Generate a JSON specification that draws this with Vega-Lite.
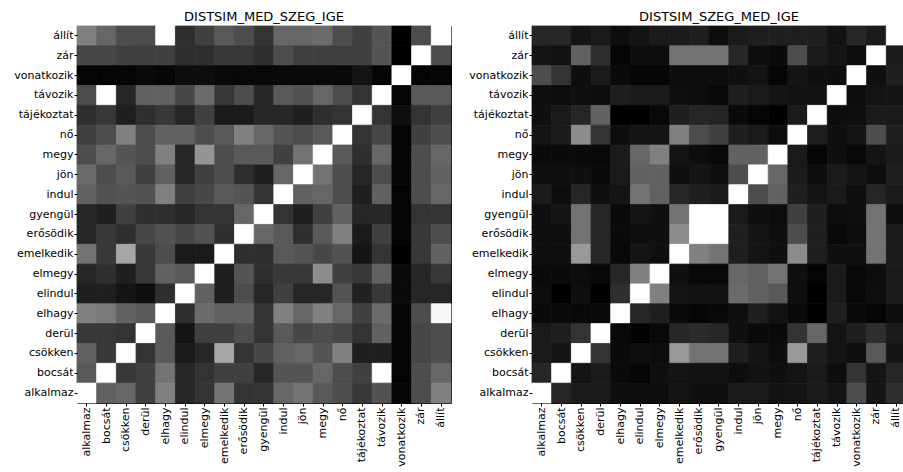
{
"$schema": "https://vega.github.io/schema/vega-lite/v6.json",
"background": "white",
"padding": {"left": 0, "top": 10, "right": 0, "bottom": 0},
"spacing": 3,
"config": {
 "view": {"stroke": "black", "strokeWidth": 1},
 "font": "DejaVu Sans",
 "axis": {"labelFont": "DejaVu Sans", "labelFontSize": 11, "labelColor": "black", "domain": false, "ticks": true, "tickSize": 3, "tickColor": "black", "labelPadding": 1, "title": null, "grid": false},
 "title": {"font": "DejaVu Sans", "fontSize": 13, "fontWeight": "normal", "color": "black", "offset": 2, "anchor": "middle"}
},
"hconcat": [
 {"title": "DISTSIM_MED_SZEG_IGE", "width": 374, "height": 377, "data": {"name": "left"}, "mark": {"type": "rect", "strokeWidth": 0.8},
  "encoding": {
   "x": {"field": "c", "type": "nominal", "sort": ["alkalmaz","bocsát","csökken","derül","elhagy","elindul","elmegy","emelkedik","erősödik","gyengül","indul","jön","megy","nő","tájékoztat","távozik","vonatkozik","zár","állít"], "scale": {"paddingInner": 0, "paddingOuter": 0}, "axis": {"labelAngle": -90}},
   "y": {"field": "r", "type": "nominal", "sort": ["állít","zár","vonatkozik","távozik","tájékoztat","nő","megy","jön","indul","gyengül","erősödik","emelkedik","elmegy","elindul","elhagy","derül","csökken","bocsát","alkalmaz"], "scale": {"paddingInner": 0, "paddingOuter": 0}, "axis": {"minExtent": 76, "maxExtent": 76}},
   "color": {"field": "v", "type": "quantitative", "scale": {"domain": [0, 1], "range": ["#000000", "#ffffff"], "interpolate": "rgb"}, "legend": null},
   "stroke": {"field": "v", "type": "quantitative", "scale": {"domain": [0, 1], "range": ["#000000", "#ffffff"], "interpolate": "rgb"}, "legend": null}
  }},
 {"title": "DISTSIM_SZEG_MED_IGE", "width": 374, "height": 377, "data": {"name": "right"}, "mark": {"type": "rect", "strokeWidth": 0.8},
  "encoding": {
   "x": {"field": "c", "type": "nominal", "sort": ["alkalmaz","bocsát","csökken","derül","elhagy","elindul","elmegy","emelkedik","erősödik","gyengül","indul","jön","megy","nő","tájékoztat","távozik","vonatkozik","zár","állít"], "scale": {"paddingInner": 0, "paddingOuter": 0}, "axis": {"labelAngle": -90}},
   "y": {"field": "r", "type": "nominal", "sort": ["állít","zár","vonatkozik","távozik","tájékoztat","nő","megy","jön","indul","gyengül","erősödik","emelkedik","elmegy","elindul","elhagy","derül","csökken","bocsát","alkalmaz"], "scale": {"paddingInner": 0, "paddingOuter": 0}, "axis": {"minExtent": 76, "maxExtent": 76}},
   "color": {"field": "v", "type": "quantitative", "scale": {"domain": [0, 1], "range": ["#000000", "#ffffff"], "interpolate": "rgb"}, "legend": null},
   "stroke": {"field": "v", "type": "quantitative", "scale": {"domain": [0, 1], "range": ["#000000", "#ffffff"], "interpolate": "rgb"}, "legend": null}
  }}
],
"datasets": {
"left": [
{"r":"állít","c":"alkalmaz","v":0.5},{"r":"állít","c":"bocsát","v":0.4},{"r":"állít","c":"csökken","v":0.3},{"r":"állít","c":"derül","v":0.3},{"r":"állít","c":"elhagy","v":1.0},{"r":"állít","c":"elindul","v":0.18},{"r":"állít","c":"elmegy","v":0.25},{"r":"állít","c":"emelkedik","v":0.35},{"r":"állít","c":"erősödik","v":0.3},{"r":"állít","c":"gyengül","v":0.2},{"r":"állít","c":"indul","v":0.4},{"r":"állít","c":"jön","v":0.4},{"r":"állít","c":"megy","v":0.42},{"r":"állít","c":"nő","v":0.3},{"r":"állít","c":"tájékoztat","v":0.25},{"r":"állít","c":"távozik","v":0.33},{"r":"állít","c":"vonatkozik","v":0.0},{"r":"állít","c":"zár","v":0.3},{"r":"állít","c":"állít","v":1.0},
{"r":"zár","c":"alkalmaz","v":0.28},{"r":"zár","c":"bocsát","v":0.28},{"r":"zár","c":"csökken","v":0.25},{"r":"zár","c":"derül","v":0.25},{"r":"zár","c":"elhagy","v":0.25},{"r":"zár","c":"elindul","v":0.18},{"r":"zár","c":"elmegy","v":0.18},{"r":"zár","c":"emelkedik","v":0.22},{"r":"zár","c":"erősödik","v":0.22},{"r":"zár","c":"gyengül","v":0.18},{"r":"zár","c":"indul","v":0.3},{"r":"zár","c":"jön","v":0.25},{"r":"zár","c":"megy","v":0.25},{"r":"zár","c":"nő","v":0.25},{"r":"zár","c":"tájékoztat","v":0.25},{"r":"zár","c":"távozik","v":0.33},{"r":"zár","c":"vonatkozik","v":0.0},{"r":"zár","c":"zár","v":1.0},{"r":"zár","c":"állít","v":0.3},
{"r":"vonatkozik","c":"alkalmaz","v":0.02},{"r":"vonatkozik","c":"bocsát","v":0.02},{"r":"vonatkozik","c":"csökken","v":0.02},{"r":"vonatkozik","c":"derül","v":0.03},{"r":"vonatkozik","c":"elhagy","v":0.02},{"r":"vonatkozik","c":"elindul","v":0.05},{"r":"vonatkozik","c":"elmegy","v":0.05},{"r":"vonatkozik","c":"emelkedik","v":0.03},{"r":"vonatkozik","c":"erősödik","v":0.03},{"r":"vonatkozik","c":"gyengül","v":0.03},{"r":"vonatkozik","c":"indul","v":0.03},{"r":"vonatkozik","c":"jön","v":0.03},{"r":"vonatkozik","c":"megy","v":0.03},{"r":"vonatkozik","c":"nő","v":0.03},{"r":"vonatkozik","c":"tájékoztat","v":0.08},{"r":"vonatkozik","c":"távozik","v":0.02},{"r":"vonatkozik","c":"vonatkozik","v":1.0},{"r":"vonatkozik","c":"zár","v":0.02},{"r":"vonatkozik","c":"állít","v":0.02},
{"r":"távozik","c":"alkalmaz","v":0.3},{"r":"távozik","c":"bocsát","v":1.0},{"r":"távozik","c":"csökken","v":0.15},{"r":"távozik","c":"derül","v":0.38},{"r":"távozik","c":"elhagy","v":0.38},{"r":"távozik","c":"elindul","v":0.28},{"r":"távozik","c":"elmegy","v":0.42},{"r":"távozik","c":"emelkedik","v":0.22},{"r":"távozik","c":"erősödik","v":0.3},{"r":"távozik","c":"gyengül","v":0.15},{"r":"távozik","c":"indul","v":0.35},{"r":"távozik","c":"jön","v":0.32},{"r":"távozik","c":"megy","v":0.4},{"r":"távozik","c":"nő","v":0.3},{"r":"távozik","c":"tájékoztat","v":0.2},{"r":"távozik","c":"távozik","v":1.0},{"r":"távozik","c":"vonatkozik","v":0.02},{"r":"távozik","c":"zár","v":0.35},{"r":"távozik","c":"állít","v":0.35},
{"r":"tájékoztat","c":"alkalmaz","v":0.18},{"r":"tájékoztat","c":"bocsát","v":0.22},{"r":"tájékoztat","c":"csökken","v":0.12},{"r":"tájékoztat","c":"derül","v":0.18},{"r":"tájékoztat","c":"elhagy","v":0.22},{"r":"tájékoztat","c":"elindul","v":0.15},{"r":"tájékoztat","c":"elmegy","v":0.25},{"r":"tájékoztat","c":"emelkedik","v":0.1},{"r":"tájékoztat","c":"erősödik","v":0.1},{"r":"tájékoztat","c":"gyengül","v":0.15},{"r":"tájékoztat","c":"indul","v":0.15},{"r":"tájékoztat","c":"jön","v":0.12},{"r":"tájékoztat","c":"megy","v":0.18},{"r":"tájékoztat","c":"nő","v":0.2},{"r":"tájékoztat","c":"tájékoztat","v":1.0},{"r":"tájékoztat","c":"távozik","v":0.2},{"r":"tájékoztat","c":"vonatkozik","v":0.06},{"r":"tájékoztat","c":"zár","v":0.2},{"r":"tájékoztat","c":"állít","v":0.25},
{"r":"nő","c":"alkalmaz","v":0.25},{"r":"nő","c":"bocsát","v":0.3},{"r":"nő","c":"csökken","v":0.5},{"r":"nő","c":"derül","v":0.3},{"r":"nő","c":"elhagy","v":0.38},{"r":"nő","c":"elindul","v":0.38},{"r":"nő","c":"elmegy","v":0.3},{"r":"nő","c":"emelkedik","v":0.35},{"r":"nő","c":"erősödik","v":0.5},{"r":"nő","c":"gyengül","v":0.4},{"r":"nő","c":"indul","v":0.33},{"r":"nő","c":"jön","v":0.3},{"r":"nő","c":"megy","v":0.35},{"r":"nő","c":"nő","v":1.0},{"r":"nő","c":"tájékoztat","v":0.2},{"r":"nő","c":"távozik","v":0.28},{"r":"nő","c":"vonatkozik","v":0.02},{"r":"nő","c":"zár","v":0.25},{"r":"nő","c":"állít","v":0.3},
{"r":"megy","c":"alkalmaz","v":0.3},{"r":"megy","c":"bocsát","v":0.4},{"r":"megy","c":"csökken","v":0.33},{"r":"megy","c":"derül","v":0.3},{"r":"megy","c":"elhagy","v":0.5},{"r":"megy","c":"elindul","v":0.15},{"r":"megy","c":"elmegy","v":0.58},{"r":"megy","c":"emelkedik","v":0.3},{"r":"megy","c":"erősödik","v":0.35},{"r":"megy","c":"gyengül","v":0.35},{"r":"megy","c":"indul","v":0.25},{"r":"megy","c":"jön","v":0.45},{"r":"megy","c":"megy","v":1.0},{"r":"megy","c":"nő","v":0.35},{"r":"megy","c":"tájékoztat","v":0.18},{"r":"megy","c":"távozik","v":0.4},{"r":"megy","c":"vonatkozik","v":0.02},{"r":"megy","c":"zár","v":0.3},{"r":"megy","c":"állít","v":0.4},
{"r":"jön","c":"alkalmaz","v":0.42},{"r":"jön","c":"bocsát","v":0.3},{"r":"jön","c":"csökken","v":0.35},{"r":"jön","c":"derül","v":0.25},{"r":"jön","c":"elhagy","v":0.38},{"r":"jön","c":"elindul","v":0.15},{"r":"jön","c":"elmegy","v":0.25},{"r":"jön","c":"emelkedik","v":0.3},{"r":"jön","c":"erősödik","v":0.18},{"r":"jön","c":"gyengül","v":0.12},{"r":"jön","c":"indul","v":0.4},{"r":"jön","c":"jön","v":1.0},{"r":"jön","c":"megy","v":0.45},{"r":"jön","c":"nő","v":0.3},{"r":"jön","c":"tájékoztat","v":0.15},{"r":"jön","c":"távozik","v":0.3},{"r":"jön","c":"vonatkozik","v":0.02},{"r":"jön","c":"zár","v":0.3},{"r":"jön","c":"állít","v":0.38},
{"r":"indul","c":"alkalmaz","v":0.38},{"r":"indul","c":"bocsát","v":0.32},{"r":"indul","c":"csökken","v":0.33},{"r":"indul","c":"derül","v":0.32},{"r":"indul","c":"elhagy","v":0.5},{"r":"indul","c":"elindul","v":0.25},{"r":"indul","c":"elmegy","v":0.28},{"r":"indul","c":"emelkedik","v":0.35},{"r":"indul","c":"erősödik","v":0.33},{"r":"indul","c":"gyengül","v":0.2},{"r":"indul","c":"indul","v":1.0},{"r":"indul","c":"jön","v":0.38},{"r":"indul","c":"megy","v":0.4},{"r":"indul","c":"nő","v":0.3},{"r":"indul","c":"tájékoztat","v":0.12},{"r":"indul","c":"távozik","v":0.38},{"r":"indul","c":"vonatkozik","v":0.02},{"r":"indul","c":"zár","v":0.3},{"r":"indul","c":"állít","v":0.4},
{"r":"gyengül","c":"alkalmaz","v":0.15},{"r":"gyengül","c":"bocsát","v":0.12},{"r":"gyengül","c":"csökken","v":0.25},{"r":"gyengül","c":"derül","v":0.18},{"r":"gyengül","c":"elhagy","v":0.18},{"r":"gyengül","c":"elindul","v":0.15},{"r":"gyengül","c":"elmegy","v":0.2},{"r":"gyengül","c":"emelkedik","v":0.2},{"r":"gyengül","c":"erősödik","v":0.4},{"r":"gyengül","c":"gyengül","v":1.0},{"r":"gyengül","c":"indul","v":0.2},{"r":"gyengül","c":"jön","v":0.12},{"r":"gyengül","c":"megy","v":0.25},{"r":"gyengül","c":"nő","v":0.38},{"r":"gyengül","c":"tájékoztat","v":0.15},{"r":"gyengül","c":"távozik","v":0.15},{"r":"gyengül","c":"vonatkozik","v":0.02},{"r":"gyengül","c":"zár","v":0.2},{"r":"gyengül","c":"állít","v":0.2},
{"r":"erősödik","c":"alkalmaz","v":0.15},{"r":"erősödik","c":"bocsát","v":0.22},{"r":"erősödik","c":"csökken","v":0.18},{"r":"erősödik","c":"derül","v":0.28},{"r":"erősödik","c":"elhagy","v":0.32},{"r":"erősödik","c":"elindul","v":0.28},{"r":"erősödik","c":"elmegy","v":0.32},{"r":"erősödik","c":"emelkedik","v":0.18},{"r":"erősödik","c":"erősödik","v":1.0},{"r":"erősödik","c":"gyengül","v":0.4},{"r":"erősödik","c":"indul","v":0.35},{"r":"erősödik","c":"jön","v":0.18},{"r":"erősödik","c":"megy","v":0.35},{"r":"erősödik","c":"nő","v":0.5},{"r":"erősödik","c":"tájékoztat","v":0.1},{"r":"erősödik","c":"távozik","v":0.25},{"r":"erősödik","c":"vonatkozik","v":0.02},{"r":"erősödik","c":"zár","v":0.22},{"r":"erősödik","c":"állít","v":0.3},
{"r":"emelkedik","c":"alkalmaz","v":0.45},{"r":"emelkedik","c":"bocsát","v":0.22},{"r":"emelkedik","c":"csökken","v":0.65},{"r":"emelkedik","c":"derül","v":0.22},{"r":"emelkedik","c":"elhagy","v":0.3},{"r":"emelkedik","c":"elindul","v":0.1},{"r":"emelkedik","c":"elmegy","v":0.1},{"r":"emelkedik","c":"emelkedik","v":1.0},{"r":"emelkedik","c":"erősödik","v":0.18},{"r":"emelkedik","c":"gyengül","v":0.18},{"r":"emelkedik","c":"indul","v":0.35},{"r":"emelkedik","c":"jön","v":0.33},{"r":"emelkedik","c":"megy","v":0.28},{"r":"emelkedik","c":"nő","v":0.32},{"r":"emelkedik","c":"tájékoztat","v":0.08},{"r":"emelkedik","c":"távozik","v":0.2},{"r":"emelkedik","c":"vonatkozik","v":0.0},{"r":"emelkedik","c":"zár","v":0.22},{"r":"emelkedik","c":"állít","v":0.38},
{"r":"elmegy","c":"alkalmaz","v":0.15},{"r":"elmegy","c":"bocsát","v":0.18},{"r":"elmegy","c":"csökken","v":0.12},{"r":"elmegy","c":"derül","v":0.22},{"r":"elmegy","c":"elhagy","v":0.38},{"r":"elmegy","c":"elindul","v":0.35},{"r":"elmegy","c":"elmegy","v":1.0},{"r":"elmegy","c":"emelkedik","v":0.12},{"r":"elmegy","c":"erősödik","v":0.33},{"r":"elmegy","c":"gyengül","v":0.18},{"r":"elmegy","c":"indul","v":0.22},{"r":"elmegy","c":"jön","v":0.22},{"r":"elmegy","c":"megy","v":0.55},{"r":"elmegy","c":"nő","v":0.25},{"r":"elmegy","c":"tájékoztat","v":0.22},{"r":"elmegy","c":"távozik","v":0.38},{"r":"elmegy","c":"vonatkozik","v":0.04},{"r":"elmegy","c":"zár","v":0.15},{"r":"elmegy","c":"állít","v":0.22},
{"r":"elindul","c":"alkalmaz","v":0.12},{"r":"elindul","c":"bocsát","v":0.12},{"r":"elindul","c":"csökken","v":0.08},{"r":"elindul","c":"derül","v":0.06},{"r":"elindul","c":"elhagy","v":0.18},{"r":"elindul","c":"elindul","v":1.0},{"r":"elindul","c":"elmegy","v":0.38},{"r":"elindul","c":"emelkedik","v":0.12},{"r":"elindul","c":"erősödik","v":0.3},{"r":"elindul","c":"gyengül","v":0.15},{"r":"elindul","c":"indul","v":0.25},{"r":"elindul","c":"jön","v":0.15},{"r":"elindul","c":"megy","v":0.15},{"r":"elindul","c":"nő","v":0.33},{"r":"elindul","c":"tájékoztat","v":0.13},{"r":"elindul","c":"távozik","v":0.22},{"r":"elindul","c":"vonatkozik","v":0.04},{"r":"elindul","c":"zár","v":0.15},{"r":"elindul","c":"állít","v":0.15},
{"r":"elhagy","c":"alkalmaz","v":0.5},{"r":"elhagy","c":"bocsát","v":0.48},{"r":"elhagy","c":"csökken","v":0.38},{"r":"elhagy","c":"derül","v":0.35},{"r":"elhagy","c":"elhagy","v":1.0},{"r":"elhagy","c":"elindul","v":0.18},{"r":"elhagy","c":"elmegy","v":0.42},{"r":"elhagy","c":"emelkedik","v":0.38},{"r":"elhagy","c":"erősödik","v":0.38},{"r":"elhagy","c":"gyengül","v":0.2},{"r":"elhagy","c":"indul","v":0.5},{"r":"elhagy","c":"jön","v":0.4},{"r":"elhagy","c":"megy","v":0.5},{"r":"elhagy","c":"nő","v":0.4},{"r":"elhagy","c":"tájékoztat","v":0.25},{"r":"elhagy","c":"távozik","v":0.42},{"r":"elhagy","c":"vonatkozik","v":0.02},{"r":"elhagy","c":"zár","v":0.3},{"r":"elhagy","c":"állít","v":0.97},
{"r":"derül","c":"alkalmaz","v":0.22},{"r":"derül","c":"bocsát","v":0.22},{"r":"derül","c":"csökken","v":0.2},{"r":"derül","c":"derül","v":1.0},{"r":"derül","c":"elhagy","v":0.35},{"r":"derül","c":"elindul","v":0.08},{"r":"derül","c":"elmegy","v":0.25},{"r":"derül","c":"emelkedik","v":0.25},{"r":"derül","c":"erősödik","v":0.3},{"r":"derül","c":"gyengül","v":0.2},{"r":"derül","c":"indul","v":0.35},{"r":"derül","c":"jön","v":0.28},{"r":"derül","c":"megy","v":0.3},{"r":"derül","c":"nő","v":0.28},{"r":"derül","c":"tájékoztat","v":0.2},{"r":"derül","c":"távozik","v":0.38},{"r":"derül","c":"vonatkozik","v":0.02},{"r":"derül","c":"zár","v":0.28},{"r":"derül","c":"állít","v":0.3},
{"r":"csökken","c":"alkalmaz","v":0.38},{"r":"csökken","c":"bocsát","v":0.22},{"r":"csökken","c":"csökken","v":1.0},{"r":"csökken","c":"derül","v":0.2},{"r":"csökken","c":"elhagy","v":0.35},{"r":"csökken","c":"elindul","v":0.1},{"r":"csökken","c":"elmegy","v":0.15},{"r":"csökken","c":"emelkedik","v":0.65},{"r":"csökken","c":"erősödik","v":0.2},{"r":"csökken","c":"gyengül","v":0.28},{"r":"csökken","c":"indul","v":0.38},{"r":"csökken","c":"jön","v":0.4},{"r":"csökken","c":"megy","v":0.33},{"r":"csökken","c":"nő","v":0.5},{"r":"csökken","c":"tájékoztat","v":0.12},{"r":"csökken","c":"távozik","v":0.12},{"r":"csökken","c":"vonatkozik","v":0.02},{"r":"csökken","c":"zár","v":0.28},{"r":"csökken","c":"állít","v":0.3},
{"r":"bocsát","c":"alkalmaz","v":0.35},{"r":"bocsát","c":"bocsát","v":1.0},{"r":"bocsát","c":"csökken","v":0.22},{"r":"bocsát","c":"derül","v":0.25},{"r":"bocsát","c":"elhagy","v":0.45},{"r":"bocsát","c":"elindul","v":0.15},{"r":"bocsát","c":"elmegy","v":0.2},{"r":"bocsát","c":"emelkedik","v":0.25},{"r":"bocsát","c":"erősödik","v":0.25},{"r":"bocsát","c":"gyengül","v":0.15},{"r":"bocsát","c":"indul","v":0.33},{"r":"bocsát","c":"jön","v":0.33},{"r":"bocsát","c":"megy","v":0.4},{"r":"bocsát","c":"nő","v":0.3},{"r":"bocsát","c":"tájékoztat","v":0.25},{"r":"bocsát","c":"távozik","v":1.0},{"r":"bocsát","c":"vonatkozik","v":0.02},{"r":"bocsát","c":"zár","v":0.3},{"r":"bocsát","c":"állít","v":0.4},
{"r":"alkalmaz","c":"alkalmaz","v":1.0},{"r":"alkalmaz","c":"bocsát","v":0.38},{"r":"alkalmaz","c":"csökken","v":0.4},{"r":"alkalmaz","c":"derül","v":0.25},{"r":"alkalmaz","c":"elhagy","v":0.5},{"r":"alkalmaz","c":"elindul","v":0.15},{"r":"alkalmaz","c":"elmegy","v":0.2},{"r":"alkalmaz","c":"emelkedik","v":0.45},{"r":"alkalmaz","c":"erősödik","v":0.2},{"r":"alkalmaz","c":"gyengül","v":0.2},{"r":"alkalmaz","c":"indul","v":0.4},{"r":"alkalmaz","c":"jön","v":0.45},{"r":"alkalmaz","c":"megy","v":0.35},{"r":"alkalmaz","c":"nő","v":0.3},{"r":"alkalmaz","c":"tájékoztat","v":0.22},{"r":"alkalmaz","c":"távozik","v":0.32},{"r":"alkalmaz","c":"vonatkozik","v":0.02},{"r":"alkalmaz","c":"zár","v":0.3},{"r":"alkalmaz","c":"állít","v":0.5}
],
"right": [
{"r":"állít","c":"alkalmaz","v":0.15},{"r":"állít","c":"bocsát","v":0.15},{"r":"állít","c":"csökken","v":0.08},{"r":"állít","c":"derül","v":0.1},{"r":"állít","c":"elhagy","v":0.05},{"r":"állít","c":"elindul","v":0.08},{"r":"állít","c":"elmegy","v":0.1},{"r":"állít","c":"emelkedik","v":0.1},{"r":"állít","c":"erősödik","v":0.12},{"r":"állít","c":"gyengül","v":0.05},{"r":"állít","c":"indul","v":0.1},{"r":"állít","c":"jön","v":0.12},{"r":"állít","c":"megy","v":0.12},{"r":"állít","c":"nő","v":0.12},{"r":"állít","c":"tájékoztat","v":0.12},{"r":"állít","c":"távozik","v":0.07},{"r":"állít","c":"vonatkozik","v":0.15},{"r":"állít","c":"zár","v":0.1},{"r":"állít","c":"állít","v":1.0},
{"r":"zár","c":"alkalmaz","v":0.08},{"r":"zár","c":"bocsát","v":0.07},{"r":"zár","c":"csökken","v":0.38},{"r":"zár","c":"derül","v":0.18},{"r":"zár","c":"elhagy","v":0.02},{"r":"zár","c":"elindul","v":0.05},{"r":"zár","c":"elmegy","v":0.05},{"r":"zár","c":"emelkedik","v":0.45},{"r":"zár","c":"erősödik","v":0.45},{"r":"zár","c":"gyengül","v":0.45},{"r":"zár","c":"indul","v":0.15},{"r":"zár","c":"jön","v":0.05},{"r":"zár","c":"megy","v":0.04},{"r":"zár","c":"nő","v":0.3},{"r":"zár","c":"tájékoztat","v":0.1},{"r":"zár","c":"távozik","v":0.08},{"r":"zár","c":"vonatkozik","v":0.05},{"r":"zár","c":"zár","v":1.0},{"r":"zár","c":"állít","v":0.1},
{"r":"vonatkozik","c":"alkalmaz","v":0.3},{"r":"vonatkozik","c":"bocsát","v":0.2},{"r":"vonatkozik","c":"csökken","v":0.05},{"r":"vonatkozik","c":"derül","v":0.1},{"r":"vonatkozik","c":"elhagy","v":0.04},{"r":"vonatkozik","c":"elindul","v":0.02},{"r":"vonatkozik","c":"elmegy","v":0.02},{"r":"vonatkozik","c":"emelkedik","v":0.05},{"r":"vonatkozik","c":"erősödik","v":0.05},{"r":"vonatkozik","c":"gyengül","v":0.05},{"r":"vonatkozik","c":"indul","v":0.06},{"r":"vonatkozik","c":"jön","v":0.08},{"r":"vonatkozik","c":"megy","v":0.02},{"r":"vonatkozik","c":"nő","v":0.08},{"r":"vonatkozik","c":"tájékoztat","v":0.06},{"r":"vonatkozik","c":"távozik","v":0.05},{"r":"vonatkozik","c":"vonatkozik","v":1.0},{"r":"vonatkozik","c":"zár","v":0.06},{"r":"vonatkozik","c":"állít","v":0.12},
{"r":"távozik","c":"alkalmaz","v":0.06},{"r":"távozik","c":"bocsát","v":0.05},{"r":"távozik","c":"csökken","v":0.06},{"r":"távozik","c":"derül","v":0.05},{"r":"távozik","c":"elhagy","v":0.12},{"r":"távozik","c":"elindul","v":0.1},{"r":"távozik","c":"elmegy","v":0.1},{"r":"távozik","c":"emelkedik","v":0.06},{"r":"távozik","c":"erősödik","v":0.05},{"r":"távozik","c":"gyengül","v":0.03},{"r":"távozik","c":"indul","v":0.12},{"r":"távozik","c":"jön","v":0.1},{"r":"távozik","c":"megy","v":0.08},{"r":"távozik","c":"nő","v":0.07},{"r":"távozik","c":"tájékoztat","v":0.07},{"r":"távozik","c":"távozik","v":1.0},{"r":"távozik","c":"vonatkozik","v":0.05},{"r":"távozik","c":"zár","v":0.08},{"r":"távozik","c":"állít","v":0.08},
{"r":"tájékoztat","c":"alkalmaz","v":0.06},{"r":"tájékoztat","c":"bocsát","v":0.1},{"r":"tájékoztat","c":"csökken","v":0.15},{"r":"tájékoztat","c":"derül","v":0.38},{"r":"tájékoztat","c":"elhagy","v":0.0},{"r":"tájékoztat","c":"elindul","v":0.0},{"r":"tájékoztat","c":"elmegy","v":0.03},{"r":"tájékoztat","c":"emelkedik","v":0.12},{"r":"tájékoztat","c":"erősödik","v":0.15},{"r":"tájékoztat","c":"gyengül","v":0.14},{"r":"tájékoztat","c":"indul","v":0.04},{"r":"tájékoztat","c":"jön","v":0.02},{"r":"tájékoztat","c":"megy","v":0.0},{"r":"tájékoztat","c":"nő","v":0.1},{"r":"tájékoztat","c":"tájékoztat","v":1.0},{"r":"tájékoztat","c":"távozik","v":0.05},{"r":"tájékoztat","c":"vonatkozik","v":0.06},{"r":"tájékoztat","c":"zár","v":0.1},{"r":"tájékoztat","c":"állít","v":0.1},
{"r":"nő","c":"alkalmaz","v":0.08},{"r":"nő","c":"bocsát","v":0.1},{"r":"nő","c":"csökken","v":0.55},{"r":"nő","c":"derül","v":0.2},{"r":"nő","c":"elhagy","v":0.05},{"r":"nő","c":"elindul","v":0.08},{"r":"nő","c":"elmegy","v":0.08},{"r":"nő","c":"emelkedik","v":0.5},{"r":"nő","c":"erősödik","v":0.3},{"r":"nő","c":"gyengül","v":0.25},{"r":"nő","c":"indul","v":0.12},{"r":"nő","c":"jön","v":0.1},{"r":"nő","c":"megy","v":0.05},{"r":"nő","c":"nő","v":1.0},{"r":"nő","c":"tájékoztat","v":0.12},{"r":"nő","c":"távozik","v":0.06},{"r":"nő","c":"vonatkozik","v":0.08},{"r":"nő","c":"zár","v":0.3},{"r":"nő","c":"állít","v":0.12},
{"r":"megy","c":"alkalmaz","v":0.04},{"r":"megy","c":"bocsát","v":0.04},{"r":"megy","c":"csökken","v":0.04},{"r":"megy","c":"derül","v":0.03},{"r":"megy","c":"elhagy","v":0.1},{"r":"megy","c":"elindul","v":0.4},{"r":"megy","c":"elmegy","v":0.5},{"r":"megy","c":"emelkedik","v":0.08},{"r":"megy","c":"erősödik","v":0.05},{"r":"megy","c":"gyengül","v":0.03},{"r":"megy","c":"indul","v":0.38},{"r":"megy","c":"jön","v":0.38},{"r":"megy","c":"megy","v":1.0},{"r":"megy","c":"nő","v":0.1},{"r":"megy","c":"tájékoztat","v":0.02},{"r":"megy","c":"távozik","v":0.06},{"r":"megy","c":"vonatkozik","v":0.03},{"r":"megy","c":"zár","v":0.08},{"r":"megy","c":"állít","v":0.1},
{"r":"jön","c":"alkalmaz","v":0.06},{"r":"jön","c":"bocsát","v":0.06},{"r":"jön","c":"csökken","v":0.06},{"r":"jön","c":"derül","v":0.04},{"r":"jön","c":"elhagy","v":0.1},{"r":"jön","c":"elindul","v":0.38},{"r":"jön","c":"elmegy","v":0.38},{"r":"jön","c":"emelkedik","v":0.06},{"r":"jön","c":"erősödik","v":0.08},{"r":"jön","c":"gyengül","v":0.06},{"r":"jön","c":"indul","v":0.3},{"r":"jön","c":"jön","v":1.0},{"r":"jön","c":"megy","v":0.4},{"r":"jön","c":"nő","v":0.1},{"r":"jön","c":"tájékoztat","v":0.05},{"r":"jön","c":"távozik","v":0.1},{"r":"jön","c":"vonatkozik","v":0.08},{"r":"jön","c":"zár","v":0.05},{"r":"jön","c":"állít","v":0.12},
{"r":"indul","c":"alkalmaz","v":0.1},{"r":"indul","c":"bocsát","v":0.05},{"r":"indul","c":"csökken","v":0.15},{"r":"indul","c":"derül","v":0.06},{"r":"indul","c":"elhagy","v":0.08},{"r":"indul","c":"elindul","v":0.45},{"r":"indul","c":"elmegy","v":0.38},{"r":"indul","c":"emelkedik","v":0.15},{"r":"indul","c":"erősödik","v":0.12},{"r":"indul","c":"gyengül","v":0.1},{"r":"indul","c":"indul","v":1.0},{"r":"indul","c":"jön","v":0.3},{"r":"indul","c":"megy","v":0.38},{"r":"indul","c":"nő","v":0.12},{"r":"indul","c":"tájékoztat","v":0.08},{"r":"indul","c":"távozik","v":0.1},{"r":"indul","c":"vonatkozik","v":0.06},{"r":"indul","c":"zár","v":0.15},{"r":"indul","c":"állít","v":0.1},
{"r":"gyengül","c":"alkalmaz","v":0.06},{"r":"gyengül","c":"bocsát","v":0.08},{"r":"gyengül","c":"csökken","v":0.45},{"r":"gyengül","c":"derül","v":0.15},{"r":"gyengül","c":"elhagy","v":0.04},{"r":"gyengül","c":"elindul","v":0.08},{"r":"gyengül","c":"elmegy","v":0.06},{"r":"gyengül","c":"emelkedik","v":0.45},{"r":"gyengül","c":"erősödik","v":1.0},{"r":"gyengül","c":"gyengül","v":1.0},{"r":"gyengül","c":"indul","v":0.1},{"r":"gyengül","c":"jön","v":0.06},{"r":"gyengül","c":"megy","v":0.05},{"r":"gyengül","c":"nő","v":0.25},{"r":"gyengül","c":"tájékoztat","v":0.12},{"r":"gyengül","c":"távozik","v":0.05},{"r":"gyengül","c":"vonatkozik","v":0.06},{"r":"gyengül","c":"zár","v":0.45},{"r":"gyengül","c":"állít","v":0.05},
{"r":"erősödik","c":"alkalmaz","v":0.06},{"r":"erősödik","c":"bocsát","v":0.06},{"r":"erősödik","c":"csökken","v":0.45},{"r":"erősödik","c":"derül","v":0.15},{"r":"erősödik","c":"elhagy","v":0.04},{"r":"erősödik","c":"elindul","v":0.06},{"r":"erősödik","c":"elmegy","v":0.06},{"r":"erősödik","c":"emelkedik","v":0.55},{"r":"erősödik","c":"erősödik","v":1.0},{"r":"erősödik","c":"gyengül","v":1.0},{"r":"erősödik","c":"indul","v":0.12},{"r":"erősödik","c":"jön","v":0.08},{"r":"erősödik","c":"megy","v":0.06},{"r":"erősödik","c":"nő","v":0.3},{"r":"erősödik","c":"tájékoztat","v":0.12},{"r":"erősödik","c":"távozik","v":0.03},{"r":"erősödik","c":"vonatkozik","v":0.05},{"r":"erősödik","c":"zár","v":0.45},{"r":"erősödik","c":"állít","v":0.1},
{"r":"emelkedik","c":"alkalmaz","v":0.06},{"r":"emelkedik","c":"bocsát","v":0.06},{"r":"emelkedik","c":"csökken","v":0.6},{"r":"emelkedik","c":"derül","v":0.15},{"r":"emelkedik","c":"elhagy","v":0.03},{"r":"emelkedik","c":"elindul","v":0.08},{"r":"emelkedik","c":"elmegy","v":0.06},{"r":"emelkedik","c":"emelkedik","v":1.0},{"r":"emelkedik","c":"erősödik","v":0.5},{"r":"emelkedik","c":"gyengül","v":0.45},{"r":"emelkedik","c":"indul","v":0.12},{"r":"emelkedik","c":"jön","v":0.08},{"r":"emelkedik","c":"megy","v":0.06},{"r":"emelkedik","c":"nő","v":0.55},{"r":"emelkedik","c":"tájékoztat","v":0.12},{"r":"emelkedik","c":"távozik","v":0.06},{"r":"emelkedik","c":"vonatkozik","v":0.06},{"r":"emelkedik","c":"zár","v":0.45},{"r":"emelkedik","c":"állít","v":0.1},
{"r":"elmegy","c":"alkalmaz","v":0.04},{"r":"elmegy","c":"bocsát","v":0.04},{"r":"elmegy","c":"csökken","v":0.05},{"r":"elmegy","c":"derül","v":0.03},{"r":"elmegy","c":"elhagy","v":0.15},{"r":"elmegy","c":"elindul","v":0.5},{"r":"elmegy","c":"elmegy","v":1.0},{"r":"elmegy","c":"emelkedik","v":0.06},{"r":"elmegy","c":"erősödik","v":0.03},{"r":"elmegy","c":"gyengül","v":0.03},{"r":"elmegy","c":"indul","v":0.4},{"r":"elmegy","c":"jön","v":0.38},{"r":"elmegy","c":"megy","v":0.45},{"r":"elmegy","c":"nő","v":0.06},{"r":"elmegy","c":"tájékoztat","v":0.02},{"r":"elmegy","c":"távozik","v":0.1},{"r":"elmegy","c":"vonatkozik","v":0.03},{"r":"elmegy","c":"zár","v":0.05},{"r":"elmegy","c":"állít","v":0.1},
{"r":"elindul","c":"alkalmaz","v":0.05},{"r":"elindul","c":"bocsát","v":0.0},{"r":"elindul","c":"csökken","v":0.06},{"r":"elindul","c":"derül","v":0.0},{"r":"elindul","c":"elhagy","v":0.18},{"r":"elindul","c":"elindul","v":1.0},{"r":"elindul","c":"elmegy","v":0.5},{"r":"elindul","c":"emelkedik","v":0.08},{"r":"elindul","c":"erősödik","v":0.07},{"r":"elindul","c":"gyengül","v":0.07},{"r":"elindul","c":"indul","v":0.42},{"r":"elindul","c":"jön","v":0.38},{"r":"elindul","c":"megy","v":0.35},{"r":"elindul","c":"nő","v":0.06},{"r":"elindul","c":"tájékoztat","v":0.0},{"r":"elindul","c":"távozik","v":0.1},{"r":"elindul","c":"vonatkozik","v":0.03},{"r":"elindul","c":"zár","v":0.06},{"r":"elindul","c":"állít","v":0.1},
{"r":"elhagy","c":"alkalmaz","v":0.04},{"r":"elhagy","c":"bocsát","v":0.04},{"r":"elhagy","c":"csökken","v":0.03},{"r":"elhagy","c":"derül","v":0.04},{"r":"elhagy","c":"elhagy","v":1.0},{"r":"elhagy","c":"elindul","v":0.15},{"r":"elhagy","c":"elmegy","v":0.12},{"r":"elhagy","c":"emelkedik","v":0.04},{"r":"elhagy","c":"erősödik","v":0.02},{"r":"elhagy","c":"gyengül","v":0.03},{"r":"elhagy","c":"indul","v":0.06},{"r":"elhagy","c":"jön","v":0.12},{"r":"elhagy","c":"megy","v":0.07},{"r":"elhagy","c":"nő","v":0.04},{"r":"elhagy","c":"tájékoztat","v":0.0},{"r":"elhagy","c":"távozik","v":0.12},{"r":"elhagy","c":"vonatkozik","v":0.04},{"r":"elhagy","c":"zár","v":0.02},{"r":"elhagy","c":"állít","v":0.05},
{"r":"derül","c":"alkalmaz","v":0.1},{"r":"derül","c":"bocsát","v":0.12},{"r":"derül","c":"csökken","v":0.2},{"r":"derül","c":"derül","v":1.0},{"r":"derül","c":"elhagy","v":0.03},{"r":"derül","c":"elindul","v":0.01},{"r":"derül","c":"elmegy","v":0.03},{"r":"derül","c":"emelkedik","v":0.15},{"r":"derül","c":"erősödik","v":0.17},{"r":"derül","c":"gyengül","v":0.15},{"r":"derül","c":"indul","v":0.06},{"r":"derül","c":"jön","v":0.04},{"r":"derül","c":"megy","v":0.04},{"r":"derül","c":"nő","v":0.2},{"r":"derül","c":"tájékoztat","v":0.4},{"r":"derül","c":"távozik","v":0.08},{"r":"derül","c":"vonatkozik","v":0.12},{"r":"derül","c":"zár","v":0.18},{"r":"derül","c":"állít","v":0.1},
{"r":"csökken","c":"alkalmaz","v":0.1},{"r":"csökken","c":"bocsát","v":0.08},{"r":"csökken","c":"csökken","v":1.0},{"r":"csökken","c":"derül","v":0.2},{"r":"csökken","c":"elhagy","v":0.04},{"r":"csökken","c":"elindul","v":0.06},{"r":"csökken","c":"elmegy","v":0.05},{"r":"csökken","c":"emelkedik","v":0.6},{"r":"csökken","c":"erősödik","v":0.45},{"r":"csökken","c":"gyengül","v":0.45},{"r":"csökken","c":"indul","v":0.12},{"r":"csökken","c":"jön","v":0.08},{"r":"csökken","c":"megy","v":0.05},{"r":"csökken","c":"nő","v":0.6},{"r":"csökken","c":"tájékoztat","v":0.12},{"r":"csökken","c":"távozik","v":0.08},{"r":"csökken","c":"vonatkozik","v":0.06},{"r":"csökken","c":"zár","v":0.35},{"r":"csökken","c":"állít","v":0.08},
{"r":"bocsát","c":"alkalmaz","v":0.15},{"r":"bocsát","c":"bocsát","v":1.0},{"r":"bocsát","c":"csökken","v":0.08},{"r":"bocsát","c":"derül","v":0.1},{"r":"bocsát","c":"elhagy","v":0.04},{"r":"bocsát","c":"elindul","v":0.02},{"r":"bocsát","c":"elmegy","v":0.06},{"r":"bocsát","c":"emelkedik","v":0.08},{"r":"bocsát","c":"erősödik","v":0.07},{"r":"bocsát","c":"gyengül","v":0.07},{"r":"bocsát","c":"indul","v":0.05},{"r":"bocsát","c":"jön","v":0.07},{"r":"bocsát","c":"megy","v":0.06},{"r":"bocsát","c":"nő","v":0.08},{"r":"bocsát","c":"tájékoztat","v":0.1},{"r":"bocsát","c":"távozik","v":0.05},{"r":"bocsát","c":"vonatkozik","v":0.2},{"r":"bocsát","c":"zár","v":0.08},{"r":"bocsát","c":"állít","v":0.15},
{"r":"alkalmaz","c":"alkalmaz","v":1.0},{"r":"alkalmaz","c":"bocsát","v":0.15},{"r":"alkalmaz","c":"csökken","v":0.1},{"r":"alkalmaz","c":"derül","v":0.1},{"r":"alkalmaz","c":"elhagy","v":0.05},{"r":"alkalmaz","c":"elindul","v":0.05},{"r":"alkalmaz","c":"elmegy","v":0.05},{"r":"alkalmaz","c":"emelkedik","v":0.08},{"r":"alkalmaz","c":"erősödik","v":0.06},{"r":"alkalmaz","c":"gyengül","v":0.06},{"r":"alkalmaz","c":"indul","v":0.1},{"r":"alkalmaz","c":"jön","v":0.1},{"r":"alkalmaz","c":"megy","v":0.07},{"r":"alkalmaz","c":"nő","v":0.08},{"r":"alkalmaz","c":"tájékoztat","v":0.1},{"r":"alkalmaz","c":"távozik","v":0.08},{"r":"alkalmaz","c":"vonatkozik","v":0.3},{"r":"alkalmaz","c":"zár","v":0.08},{"r":"alkalmaz","c":"állít","v":0.18}
]
}
}
